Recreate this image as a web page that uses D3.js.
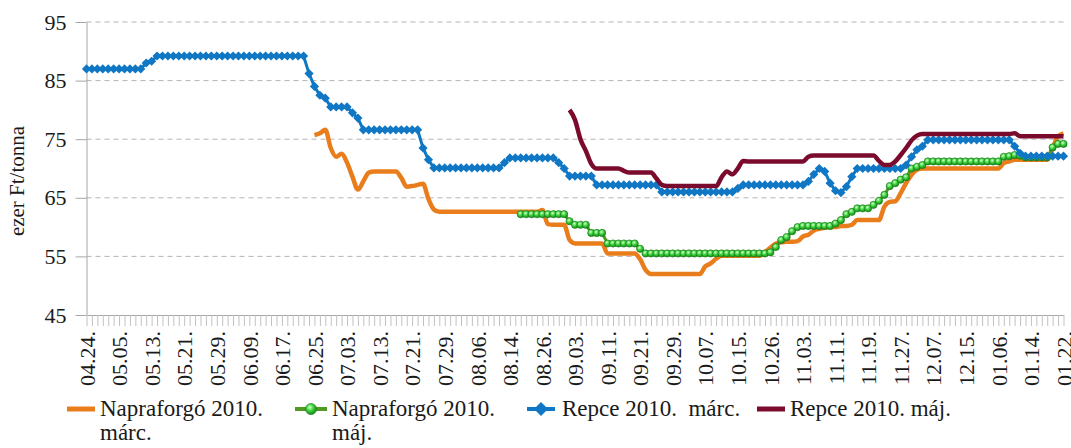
<!DOCTYPE html>
<html>
<head>
<meta charset="utf-8">
<script src="https://cdn.jsdelivr.net/npm/d3@7"></script>
<style>
  body { margin: 0; background: #fff; }
  svg { display: block; }
</style>
</head>
<body>
<svg width="1071" height="448"></svg>
<script>
// one value per trading day, 181 days, 04.24. -> 01.22.
var tickLabels = [
  "04.24.", "05.05.", "05.13.", "05.21.", "05.29.", "06.09.", "06.17.", "06.25.",
  "07.03.", "07.13.", "07.21.", "07.29.", "08.06.", "08.14.", "08.26.", "09.03.",
  "09.11.", "09.21.", "09.29.", "10.07.", "10.15.", "10.26.", "11.03.", "11.11.",
  "11.19.", "11.27.", "12.07.", "12.15.", "01.06.", "01.14.", "01.22."
];
var labelEvery = 6;
var dayCount = 181;
var yTicks = [45, 55, 65, 75, 85, 95];

var seriesNames = [
  ["Napraforgó 2010.", "márc."],
  ["Napraforgó 2010.", "máj."],
  ["Repce 2010.  márc."],
  ["Repce 2010. máj."]
];

var naprMarc = new Array(40).fill(null).concat([
  null, null, 75.7, 76, 76.6, 73.5, 72, 72.5, 71, 68.6,
  66.4, 67.8, 69.3, 69.5, 69.5, 69.5, 69.5, 69.5, 68.4, 66.9,
  67, 67.2, 67.4, 64.8, 63, 62.6, 62.6, 62.6, 62.6, 62.6,
  62.6, 62.6, 62.6, 62.6, 62.6, 62.6, 62.6, 62.6, 62.6, 62.6,
  62.6, 62.6, 62.6, 62.6, 62.9, 60.5, 60.4, 60.4, 60.4, 57.8,
  57.2, 57.2, 57.2, 57.2, 57.2, 57.2, 55.5, 55.5, 55.5, 55.5,
  55.5, 55.5, 54.5, 52.7, 52, 52, 52, 52, 52, 52,
  52, 52, 52, 52, 53.3, 53.8, 54.6, 55.1, 55.1, 55.1,
  55.1, 55.1, 55.1, 55.1, 55.1, 55.7, 56.5, 57.2, 57.4, 57.5,
  57.5, 57.6, 58.4, 58.7, 59.4, 59.7, 59.9, 60, 60, 60.2,
  60.2, 60.4, 61.2, 61.2, 61.2, 61.2, 61.2, 63.5, 64.3, 64.4,
  65.8, 67.5, 68.9, 69.8, 70, 70, 70, 70, 70, 70,
  70, 70, 70, 70, 70, 70, 70, 70, 70, 70.9,
  71.2, 71.5, 71.5, 71.5, 71.5, 71.5, 71.5, 71.5, 73.5, 75.5,
  76
]);

var naprMaj = new Array(80).fill(null).concat([
  62.2, 62.2, 62.2, 62.2, 62.2, 62.2, 62.2, 62.2, 62.2, 61,
  60.4, 60.4, 60.4, 59, 59, 59, 57.2, 57.2, 57.2, 57.2,
  57.2, 57.2, 56.3, 55.5, 55.5, 55.5, 55.5, 55.5, 55.5, 55.5,
  55.5, 55.5, 55.5, 55.5, 55.5, 55.5, 55.5, 55.5, 55.5, 55.5,
  55.5, 55.5, 55.5, 55.5, 55.5, 55.5, 55.7, 56.6, 57.8, 58.3,
  59.3, 60, 60.2, 60.2, 60.2, 60.2, 60.2, 60.2, 60.6, 61.2,
  62.2, 62.6, 63.2, 63.2, 63.2, 63.8, 64.5, 65.5, 67, 67.5,
  68.1, 68.5, 70, 70.3, 70.6, 71.2, 71.2, 71.2, 71.2, 71.2,
  71.2, 71.2, 71.2, 71.2, 71.2, 71.2, 71.2, 71.2, 71.2, 72,
  72.1, 72.3, 72.2, 71.9, 71.9, 71.9, 71.9, 71.9, 73.6, 74.2,
  74.2
]);

var repceMarc = [
  87, 87, 87, 87, 87, 87, 87, 87, 87, 87,
  87, 88, 88.3, 89.2, 89.2, 89.2, 89.2, 89.2, 89.2, 89.2,
  89.2, 89.2, 89.2, 89.2, 89.2, 89.2, 89.2, 89.2, 89.2, 89.2,
  89.2, 89.2, 89.2, 89.2, 89.2, 89.2, 89.2, 89.2, 89.2, 89.2,
  89.2, 86.2, 84, 82.5, 82, 80.5, 80.5, 80.5, 80.5, 79.5,
  78.6, 76.6, 76.6, 76.6, 76.6, 76.6, 76.6, 76.6, 76.6, 76.6,
  76.6, 76.6, 73.5, 71.5, 70.1, 70.1, 70.1, 70.1, 70.1, 70.1,
  70.1, 70.1, 70.1, 70.1, 70.1, 70.1, 70.1, 71, 71.8, 71.8,
  71.8, 71.8, 71.8, 71.8, 71.8, 71.8, 71.8, 71, 70, 68.7,
  68.7, 68.7, 68.7, 68.7, 67.2, 67.2, 67.2, 67.2, 67.2, 67.2,
  67.2, 67.2, 67.2, 67.2, 67.2, 67.2, 66, 66, 66, 66,
  66, 66, 66, 66, 66, 66, 66, 66, 66, 66,
  66.6, 67.2, 67.2, 67.2, 67.2, 67.2, 67.2, 67.2, 67.2, 67.2,
  67.2, 67.2, 67.2, 67.8, 69, 70, 69.5, 67.5, 66.2, 65.9,
  66.9, 68.6, 70, 70, 70, 70, 70, 70, 70, 70,
  70, 70.6, 72, 73.2, 73.8, 74.9, 74.9, 74.9, 74.9, 74.9,
  74.9, 74.9, 74.9, 74.9, 74.9, 74.9, 74.9, 74.9, 74.9, 74.9,
  74.9, 73.8, 72.6, 72.1, 72.1, 72.1, 72.1, 72.1, 72.1, 72.1,
  72.1
];

var repceMaj = new Array(80).fill(null).concat([
  null, null, null, null, null, null, null, null, null, 80,
  78.3, 75, 73, 70.8, 70, 70, 70, 70, 70, 69.6,
  69.3, 69.3, 69.3, 69.3, 69.3, 68.3, 67.2, 67, 67, 67,
  67, 67, 67, 67, 67, 67, 67, 68.5, 69.5, 69,
  70, 71.3, 71.2, 71.2, 71.2, 71.2, 71.2, 71.2, 71.2, 71.2,
  71.2, 71.2, 71.2, 72, 72.2, 72.2, 72.2, 72.2, 72.2, 72.2,
  72.2, 72.2, 72.2, 72.2, 72.2, 72.2, 71.3, 70.6, 70.6, 71.2,
  72.3, 73.5, 74.8, 75.6, 75.9, 75.9, 75.9, 75.9, 75.9, 75.9,
  75.9, 75.9, 75.9, 75.9, 75.9, 75.9, 75.9, 75.9, 75.9, 75.9,
  75.9, 76, 75.5, 75.5, 75.5, 75.5, 75.5, 75.5, 75.5, 75.5,
  75.5
]);

var serif = "Liberation Serif";
var textColor = "#1a1a1a";

var svg = d3.select("svg");

var margin = { top: 22, right: 7.5, bottom: 133, left: 86.5 };
var width = 1071, height = 448;

var x = d3.scalePoint()
  .domain(d3.range(dayCount))
  .range([margin.left, width - margin.right]);

var y = d3.scaleLinear()
  .domain([45, 95])
  .range([height - margin.bottom, margin.top]);

// gridlines
svg.append("g")
  .selectAll("line")
  .data(yTicks.filter(function(d) { return d > 45; }))
  .enter().append("line")
  .attr("x1", margin.left)
  .attr("x2", width - margin.right)
  .attr("y1", function(d) { return y(d); })
  .attr("y2", function(d) { return y(d); })
  .attr("stroke", "#b4b4b4")
  .attr("stroke-width", 1)
  .attr("stroke-dasharray", "5,4");

// y axis
var yAxis = d3.axisLeft(y).tickValues(yTicks).tickSize(11).tickPadding(9).tickSizeOuter(0);
var yGroup = svg.append("g")
  .attr("transform", "translate(" + margin.left + ",0)")
  .call(yAxis)
  .attr("font-family", serif)
  .attr("font-size", 22);
yGroup.select(".domain").attr("stroke", "#a6a6a6");
yGroup.selectAll(".tick line").attr("stroke", "#a6a6a6");
yGroup.selectAll("text").attr("fill", textColor);

// x axis
var xAxis = d3.axisBottom(x)
  .tickValues(d3.range(dayCount))
  .tickSize(11)
  .tickSizeOuter(0)
  .tickFormat(function(i) {
    return i % labelEvery === 0 ? tickLabels[i / labelEvery] : "";
  });
var xGroup = svg.append("g")
  .attr("transform", "translate(0," + y(45) + ")")
  .call(xAxis)
  .attr("font-family", serif)
  .attr("font-size", 22);
xGroup.select(".domain").attr("stroke", "#a6a6a6");
xGroup.selectAll(".tick line").attr("stroke", "#c2c2c2");
xGroup.selectAll("text")
  .attr("fill", textColor)
  .attr("transform", "rotate(-90)")
  .attr("x", -16)
  .attr("y", 0)
  .attr("dy", "0.35em")
  .attr("text-anchor", "end");

// y axis title
svg.append("text")
  .attr("transform", "translate(24,181) rotate(-90)")
  .attr("text-anchor", "middle")
  .attr("font-family", serif)
  .attr("font-size", 21)
  .attr("fill", textColor)
  .text("ezer Ft/tonna");

// green marker gradient
var defs = svg.append("defs");
var grad = defs.append("radialGradient")
  .attr("id", "greenBall")
  .attr("cx", "40%").attr("cy", "35%").attr("r", "65%");
grad.append("stop").attr("offset", "0%").attr("stop-color", "#d8ffd0");
grad.append("stop").attr("offset", "45%").attr("stop-color", "#44d844");
grad.append("stop").attr("offset", "100%").attr("stop-color", "#138a13");

var smoothLine = d3.line()
  .defined(function(d) { return d != null; })
  .x(function(d, i) { return x(i); })
  .y(function(d) { return y(d); })
  .curve(d3.curveMonotoneX);

var straightLine = d3.line()
  .defined(function(d) { return d != null; })
  .x(function(d, i) { return x(i); })
  .y(function(d) { return y(d); });

var plot = svg.append("g");

// Napraforgó márc.
plot.append("path")
  .attr("d", smoothLine(naprMarc))
  .attr("fill", "none")
  .attr("stroke", "#e97d1b")
  .attr("stroke-width", 4.5)
  .attr("stroke-linejoin", "round");

// Napraforgó máj.
plot.append("path")
  .attr("d", straightLine(naprMaj))
  .attr("fill", "none")
  .attr("stroke", "#4f9a22")
  .attr("stroke-width", 3);
plot.append("g").selectAll("circle")
  .data(naprMaj.map(function(d, i) { return { i: i, v: d }; }).filter(function(d) { return d.v != null; }))
  .enter().append("circle")
  .attr("cx", function(d) { return x(d.i); })
  .attr("cy", function(d) { return y(d.v); })
  .attr("r", 3.6)
  .attr("fill", "url(#greenBall)")
  .attr("stroke", "#1c7a1c")
  .attr("stroke-width", 0.7);

// Repce márc.
var diamond = "M0,-4.6L4.6,0L0,4.6L-4.6,0Z";
plot.append("path")
  .attr("d", straightLine(repceMarc))
  .attr("fill", "none")
  .attr("stroke", "#1077c5")
  .attr("stroke-width", 3);
plot.append("g").selectAll("path")
  .data(repceMarc)
  .enter().append("path")
  .attr("d", diamond)
  .attr("transform", function(d, i) { return "translate(" + x(i) + "," + y(d) + ")"; })
  .attr("fill", "#1077c5");

// Repce máj.
plot.append("path")
  .attr("d", smoothLine(repceMaj))
  .attr("fill", "none")
  .attr("stroke", "#7a0b2c")
  .attr("stroke-width", 4.5)
  .attr("stroke-linejoin", "round");

// legend
var legendX = [67, 295, 527, 757];
var legendY = 409;
var legend = svg.append("g");

legend.append("line")
  .attr("x1", legendX[0]).attr("x2", legendX[0] + 28)
  .attr("y1", legendY).attr("y2", legendY)
  .attr("stroke", "#e97d1b").attr("stroke-width", 5);

legend.append("line")
  .attr("x1", legendX[1]).attr("x2", legendX[1] + 32)
  .attr("y1", legendY).attr("y2", legendY)
  .attr("stroke", "#4f9a22").attr("stroke-width", 4);
legend.append("circle")
  .attr("cx", legendX[1] + 16).attr("cy", legendY).attr("r", 5.5)
  .attr("fill", "url(#greenBall)").attr("stroke", "#1c7a1c").attr("stroke-width", 0.7);

legend.append("line")
  .attr("x1", legendX[2]).attr("x2", legendX[2] + 28)
  .attr("y1", legendY).attr("y2", legendY)
  .attr("stroke", "#1077c5").attr("stroke-width", 4);
legend.append("path")
  .attr("d", "M0,-7L7,0L0,7L-7,0Z")
  .attr("transform", "translate(" + (legendX[2] + 14) + "," + legendY + ")")
  .attr("fill", "#1077c5");

legend.append("line")
  .attr("x1", legendX[3]).attr("x2", legendX[3] + 28)
  .attr("y1", legendY).attr("y2", legendY)
  .attr("stroke", "#7a0b2c").attr("stroke-width", 5);

var textX = [100, 332, 562, 790];
seriesNames.forEach(function(lines, k) {
  var t = legend.append("text")
    .attr("x", textX[k])
    .attr("y", 416)
    .attr("font-family", serif)
    .attr("font-size", 23)
    .attr("fill", textColor)
    .attr("xml:space", "preserve");
  lines.forEach(function(s, j) {
    t.append("tspan")
      .attr("x", textX[k])
      .attr("dy", j === 0 ? 0 : 24)
      .text(s);
  });
});
</script>
</body>
</html>
